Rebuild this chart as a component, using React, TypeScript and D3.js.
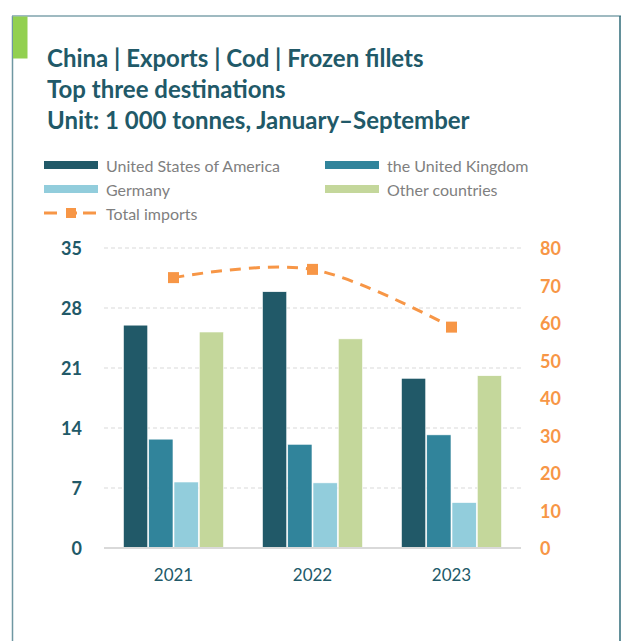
import React from "react";
import * as d3 from "d3";

const years = ["2021", "2022", "2023"];
const seriesNames = ["United States of America", "the United Kingdom", "Germany", "Other countries"];
const usa = [26.0, 29.9, 19.8];
const uk = [12.7, 12.1, 13.2];
const germany = [7.7, 7.6, 5.3];
const others = [25.2, 24.4, 20.1];
const totalImports = [72.1, 74.3, 58.9];
const leftTicks = [0, 7, 14, 21, 28, 35];
const rightTicks = [0, 10, 20, 30, 40, 50, 60, 70, 80];
const colors = ["#215968", "#31849b", "#92cddc", "#c4d79b"];
const orange = "#f79646";
const titleLines = [
  "China | Exports | Cod | Frozen fillets",
  "Top three destinations",
  "Unit: 1 000 tonnes, January\u2013September",
];

const FONT = "Lato, 'Open Sans', sans-serif";

export default function App() {
  const W = 621, H = 641;
  const left = 104, right = 521, top = 248, bottom = 548;
  const seriesVals = [usa, uk, germany, others];

  const x0 = d3.scaleBand<string>().domain(years).range([left, right]).paddingInner(0.28).paddingOuter(0.14);
  const x1 = d3.scaleBand<number>().domain([0, 1, 2, 3]).range([0, x0.bandwidth()]).paddingInner(0.04);
  const yL = d3.scaleLinear().domain([0, 35]).range([bottom, top]);
  const yR = d3.scaleLinear().domain([0, 80]).range([bottom, top]);

  const linePts: [number, number][] = years.map((yr, i) => [x0(yr)! + x0.bandwidth() / 2, yR(totalImports[i])]);
  const lineGen = d3.line().curve(d3.curveCardinal.tension(0));
  const pathD = lineGen(linePts) || "";

  const legendItems = [
    { name: seriesNames[0], color: colors[0], x: 44, y: 165 },
    { name: seriesNames[1], color: colors[1], x: 325, y: 165 },
    { name: seriesNames[2], color: colors[2], x: 44, y: 189 },
    { name: seriesNames[3], color: colors[3], x: 325, y: 189 },
  ];

  return (
    <svg width={W} height={H} style={{ position: "absolute", left: 0, top: 0 }} fontFamily={FONT}>
      <rect x={0} y={0} width={W} height={H} fill="#ffffff" />
      {/* frame */}
      <line x1={12.5} y1={16} x2={12.5} y2={H} stroke="#6f97a2" strokeWidth={1.5} />
      <line x1={12} y1={16} x2={W} y2={16} stroke="#7fa3ad" strokeWidth={1.5} />
      <line x1={620} y1={16} x2={620} y2={H} stroke="#2f6b78" strokeWidth={1.5} />
      <rect x={13} y={16.5} width={14.5} height={42} fill="#92d050" />

      {titleLines.map((t, i) => (
        <text key={i} x={47} y={66.7 + i * 31.3} fontSize={24} fontWeight={700} fill="#215968">
          {t}
        </text>
      ))}

      {/* legend */}
      {legendItems.map((it) => (
        <g key={it.name}>
          <rect x={it.x} y={it.y - 4} width={54} height={8} fill={it.color} />
          <text x={it.x + 62} y={it.y} dominantBaseline="central" fontSize={16} fill="#7f7f7f">
            {it.name}
          </text>
        </g>
      ))}
      <g>
        <line x1={44} y1={213} x2={100} y2={213} stroke={orange} strokeWidth={3} strokeDasharray="13,9,11,6" />
        <rect x={66} y={208} width={10} height={10} fill={orange} />
        <text x={106} y={213} dominantBaseline="central" fontSize={16} fill="#7f7f7f">
          Total imports
        </text>
      </g>

      {/* gridlines */}
      {leftTicks.filter((t) => t > 0).map((t) => (
        <line key={t} x1={left} x2={right} y1={yL(t)} y2={yL(t)} stroke="#d9d9d9" strokeWidth={1} strokeDasharray="4,3" />
      ))}

      {/* bars */}
      {years.map((yr, i) => (
        <g key={yr} transform={`translate(${x0(yr)},0)`}>
          {seriesVals.map((vals, s) => (
            <rect
              key={s}
              x={x1(s)}
              y={yL(vals[i])}
              width={x1.bandwidth()}
              height={bottom - yL(vals[i])}
              fill={colors[s]}
              stroke="#ffffff"
              strokeWidth={0.6}
            />
          ))}
        </g>
      ))}
      <line x1={left} x2={right} y1={bottom} y2={bottom} stroke="#d9d9d9" strokeWidth={2} />

      {/* line */}
      <path d={pathD} fill="none" stroke={orange} strokeWidth={3} strokeDasharray="11,8" />
      {linePts.map((p, i) => (
        <rect key={i} x={p[0] - 5.5} y={p[1] - 5.5} width={11} height={11} fill={orange} />
      ))}

      {/* axes */}
      {leftTicks.map((t) => (
        <text key={t} x={82} y={yL(t)} textAnchor="end" dominantBaseline="central" fontSize={18} fontWeight={700} fill="#215968">
          {t}
        </text>
      ))}
      {rightTicks.map((t) => (
        <text key={t} x={540} y={yR(t)} textAnchor="start" dominantBaseline="central" fontSize={18} fontWeight={700} fill={orange}>
          {t}
        </text>
      ))}
      {years.map((yr) => (
        <text key={yr} x={x0(yr)! + x0.bandwidth() / 2} y={574} textAnchor="middle" dominantBaseline="central" fontSize={17} fill="#215968">
          {yr}
        </text>
      ))}
    </svg>
  );
}
